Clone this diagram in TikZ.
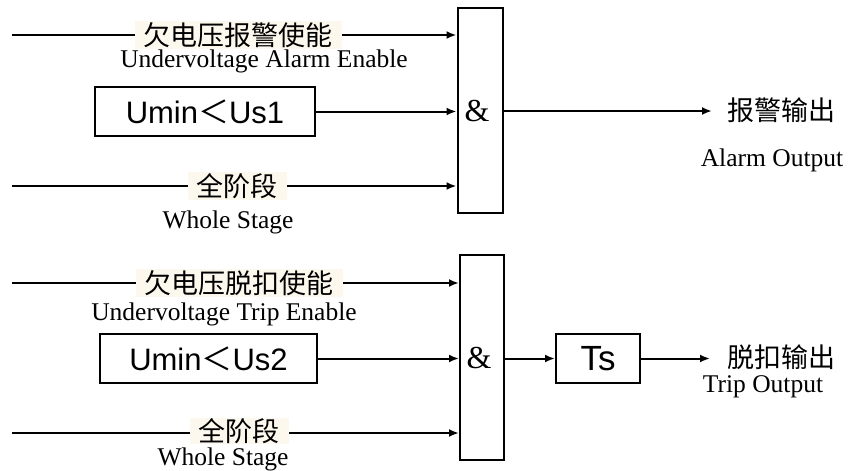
\documentclass[tikz,border=0pt]{standalone}
\usepackage{fontspec}
\setmainfont{Liberation Serif}
\newfontfamily\cjk{Noto Sans CJK SC}
\newfontfamily\arialf{Liberation Sans}
\usetikzlibrary{arrows.meta}
\definecolor{cream}{HTML}{FCF8EE}
\begin{document}
\begin{tikzpicture}[x=1pt,y=-1pt,
  conn/.style={line width=2pt,-{Latex[length=10pt,width=8pt]}},
  gatebox/.style={draw,line width=2pt,minimum width=45pt,minimum height=205pt,inner sep=0pt},
  condbox/.style={draw,line width=2pt,minimum height=49pt,inner sep=0pt,font=\arialf\fontsize{31}{33}\selectfont},
  cnlab/.style={fill=cream,inner xsep=9pt,inner ysep=1pt,font=\cjk\fontsize{27}{29}\selectfont},
  enlab/.style={inner sep=0pt,font=\fontsize{25.5}{28}\selectfont},
  outlab/.style={inner sep=0pt,font=\cjk\fontsize{27}{29}\selectfont},
  amp/.style={font=\fontsize{32}{34}\selectfont}]
\useasboundingbox (0,0) rectangle (849,471);

% ---------- upper part ----------
\node[gatebox] (g1) at (480,110.5) {};
\node[amp] (a1) at (477,111) {\&};
\node[condbox,minimum width=220pt] (b1) at (205,111.5) {Umin{\cjk＜}Us1};
\coordinate (i1) at (12,35);
\coordinate (i2) at (12,186);
\coordinate (o1) at (712,111);
\draw[conn] (i1) -- (i1 -| g1.west);
\draw[conn] (b1.east) -- (b1.east -| g1.west);
\draw[conn] (i2) -- (i2 -| g1.west);
\draw[conn] (g1.east |- o1) -- (o1);
\node[cnlab] (l1) at (238,35) {欠电压报警使能};
\node[enlab] (e1) at (264,61) {Undervoltage Alarm Enable};
\node[cnlab] (l2) at (237,186) {全阶段};
\node[enlab] (e2) at (228,222) {Whole Stage};
\node[outlab] (t1) at (781,110) {报警输出};
\node[enlab] (t1e) at (772,160) {Alarm Output};

% ---------- lower part ----------
\node[gatebox,minimum width=44pt] (g2) at (482,357.5) {};
\node[amp] (a2) at (479,358) {\&};
\node[condbox,minimum width=217pt] (b2) at (208.5,358.5) {Umin{\cjk＜}Us2};
\node[condbox,minimum width=84pt,font=\arialf\fontsize{35}{37}\selectfont] (ts) at (598,358.5) {Ts};
\coordinate (i3) at (12,283);
\coordinate (i4) at (12,433);
\coordinate (o2) at (710,358);
\draw[conn] (i3) -- (i3 -| g2.west);
\draw[conn] (b2.east) -- (b2.east -| g2.west);
\draw[conn] (i4) -- (i4 -| g2.west);
\draw[conn] (g2.east |- ts.west) -- (ts.west);
\draw[conn] (ts.east) -- (ts.east -| o2);
\node[cnlab] (l3) at (239,283) {欠电压脱扣使能};
\node[enlab] (e3) at (224,314) {Undervoltage Trip Enable};
\node[cnlab,inner ysep=0pt] (l4) at (239,431) {全阶段};
\node[enlab] (e4) at (223,459) {Whole Stage};
\node[outlab] (t2) at (781,357) {脱扣输出};
\node[enlab] (t2e) at (763,387) {Trip Output};
\end{tikzpicture}
\end{document}
